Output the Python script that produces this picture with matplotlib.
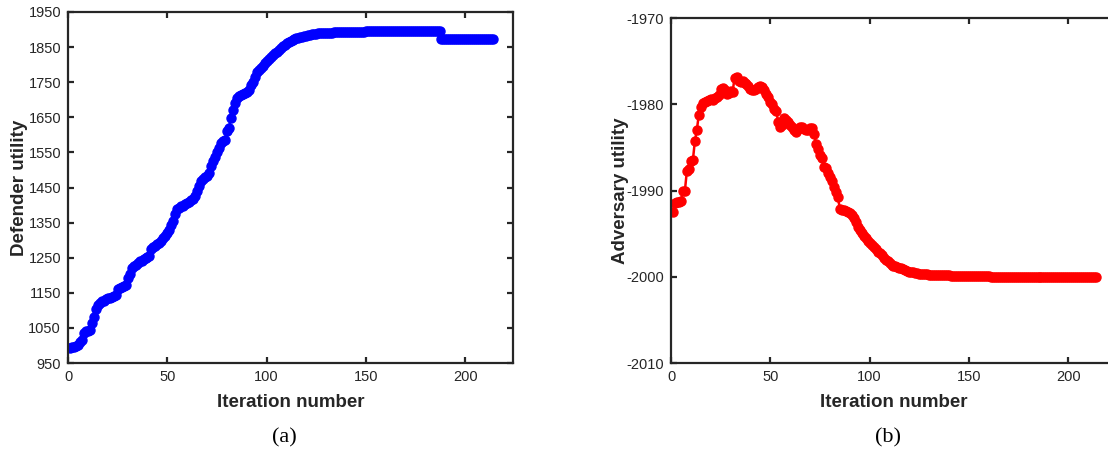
import numpy as np
import matplotlib
matplotlib.use('Agg')
import matplotlib.pyplot as plt

plt.rcParams['font.family'] = ['Liberation Sans', 'DejaVu Sans']
plt.rcParams['axes.unicode_minus'] = False

# defender utility per iteration
defender = [
    993, 995, 997, 999, 1000, 1010, 1015, 1035, 1040, 1042,
    1045, 1065, 1080, 1105, 1115, 1122, 1126, 1128, 1132, 1135,
    1136, 1138, 1140, 1145, 1162, 1165, 1166, 1168, 1172, 1192,
    1205, 1220, 1225, 1230, 1236, 1240, 1242, 1246, 1250, 1252,
    1255, 1275, 1280, 1284, 1288, 1292, 1298, 1305, 1312, 1320,
    1330, 1342, 1355, 1375, 1388, 1392, 1396, 1398, 1402, 1405,
    1410, 1414, 1418, 1425, 1440, 1455, 1468, 1475, 1480, 1484,
    1492, 1510, 1525, 1538, 1550, 1562, 1578, 1582, 1584, 1610,
    1620, 1648, 1672, 1690, 1705, 1712, 1714, 1716, 1718, 1722,
    1728, 1742, 1750, 1765, 1780, 1786, 1790, 1795, 1805, 1810,
    1815, 1822, 1828, 1832, 1836, 1842, 1848, 1853, 1857, 1861,
    1864, 1867, 1870, 1873, 1875, 1877, 1879, 1880, 1881, 1883,
    1884, 1885, 1886, 1887, 1888, 1889, 1889, 1890, 1890, 1890,
    1891, 1891, 1891, 1892, 1892, 1892, 1892, 1893, 1893, 1893,
    1893, 1893, 1894, 1894, 1894, 1894, 1894, 1894, 1894, 1895,
    1895, 1895, 1895, 1895, 1895, 1895, 1895, 1895, 1895, 1895,
    1895, 1895, 1895, 1895, 1895, 1895, 1895, 1895, 1895, 1895,
    1895, 1895, 1895, 1895, 1895, 1895, 1895, 1895, 1895, 1895,
    1895, 1895, 1895, 1895, 1895, 1895, 1895, 1874, 1874, 1874,
    1874, 1874, 1874, 1874, 1874, 1874, 1874, 1874, 1874, 1874,
    1874, 1874, 1874, 1874, 1874, 1874, 1874, 1874, 1874, 1874,
    1874, 1874, 1874, 1874,
]

# adversary utility per iteration
adversary = [
    -1992.5, -1991.4, -1991.3, -1991.3, -1991.2, -1990.1, -1990.0, -1987.7, -1987.5, -1986.6,
    -1986.5, -1984.3, -1983.0, -1981.2, -1980.3, -1979.9, -1979.7, -1979.6, -1979.5, -1979.4,
    -1979.5, -1979.3, -1979.2, -1978.9, -1978.2, -1978.1, -1978.3, -1978.8, -1978.7, -1978.5,
    -1978.6, -1976.9, -1976.8, -1977.3, -1977.4, -1977.3, -1977.5, -1977.7, -1977.9, -1978.2,
    -1978.3, -1978.4, -1978.2, -1978.0, -1977.9, -1978.0, -1978.3, -1978.8, -1979.2, -1979.7,
    -1980.0, -1980.5, -1980.8, -1982.1, -1982.6, -1982.4, -1981.6, -1981.8, -1982.1, -1982.4,
    -1982.6, -1983.0, -1983.2, -1982.9, -1982.6, -1982.6, -1982.9, -1983.0, -1983.0, -1982.8,
    -1982.8, -1983.4, -1984.6, -1985.2, -1985.9, -1986.2, -1987.3, -1987.4, -1988.0, -1988.4,
    -1988.9, -1989.6, -1990.2, -1990.8, -1992.1, -1992.3, -1992.3, -1992.4, -1992.5, -1992.6,
    -1992.8, -1993.2, -1993.7, -1994.2, -1994.6, -1994.9, -1995.3, -1995.5, -1995.8, -1996.1,
    -1996.3, -1996.6, -1996.8, -1997.1, -1997.3, -1997.5, -1997.8, -1998.0, -1998.2, -1998.4,
    -1998.6, -1998.7, -1998.8, -1998.9, -1999.0, -1999.0, -1999.1, -1999.2, -1999.3, -1999.4,
    -1999.5, -1999.5, -1999.6, -1999.6, -1999.7, -1999.7, -1999.7, -1999.7, -1999.7, -1999.8,
    -1999.8, -1999.8, -1999.8, -1999.8, -1999.8, -1999.8, -1999.8, -1999.8, -1999.8, -1999.8,
    -1999.9, -1999.9, -1999.9, -1999.9, -1999.9, -1999.9, -1999.9, -1999.9, -1999.9, -1999.9,
    -1999.9, -1999.9, -1999.9, -1999.9, -1999.9, -1999.9, -1999.9, -1999.9, -1999.9, -1999.9,
    -2000.0, -2000.0, -2000.0, -2000.0, -2000.0, -2000.0, -2000.0, -2000.0, -2000.0, -2000.0,
    -2000.0, -2000.0, -2000.0, -2000.0, -2000.0, -2000.0, -2000.0, -2000.0, -2000.0, -2000.0,
    -2000.0, -2000.0, -2000.0, -2000.0, -2000.0, -2000.0, -2000.0, -2000.0, -2000.0, -2000.0,
    -2000.0, -2000.0, -2000.0, -2000.0, -2000.0, -2000.0, -2000.0, -2000.0, -2000.0, -2000.0,
    -2000.0, -2000.0, -2000.0, -2000.0, -2000.0, -2000.0, -2000.0, -2000.0, -2000.0, -2000.0,
    -2000.0, -2000.0, -2000.0, -2000.0,
]

it_def = np.arange(1, len(defender) + 1)
it_adv = np.arange(1, len(adversary) + 1)

def_yticks = [950, 1050, 1150, 1250, 1350, 1450, 1550, 1650, 1750, 1850, 1950]
adv_yticks = [-2010, -2000, -1990, -1980, -1970]
xticks = [0, 50, 100, 150, 200]

fig = plt.figure(figsize=(11.08, 4.49), dpi=100)
ax1 = fig.add_axes([0.0614, 0.1915, 0.4016, 0.7818])
ax2 = fig.add_axes([0.6056, 0.1915, 0.4016, 0.7684])

spine_c = '#262626'


def style(ax):
    for s in ax.spines.values():
        s.set_linewidth(1.6)
        s.set_color(spine_c)
    ax.tick_params(direction='in', length=4, width=1.6, color=spine_c,
                   top=True, right=True, labelsize=10.5, labelcolor='#262626', pad=5)
    ax.set_xticks(xticks)
    ax.set_xlabel('Iteration number', fontsize=13.5, fontweight='bold', color='#262626', labelpad=7)


ax1.plot(it_def, defender, '-o', color='blue', ms=6.5, lw=1.8, mec='blue')
ax1.set_xlim(0, 224)
ax1.set_ylim(950, 1950)
ax1.set_yticks(def_yticks)
style(ax1)
ax1.set_ylabel('Defender utility', fontsize=13.5, fontweight='bold', color='#262626', labelpad=0)

ax2.plot(it_adv, adversary, '-o', color='red', ms=6.5, lw=1.8, mec='red')
ax2.set_xlim(0, 224)
ax2.set_ylim(-2010, -1970)
ax2.set_yticks(adv_yticks)
style(ax2)
ax2.set_ylabel('Adversary utility', fontsize=13.5, fontweight='bold', color='#262626', labelpad=-2)

fig.text(0.257, 0.025, '(a)', fontsize=16, family='Liberation Serif', ha='center', va='center')
fig.text(0.801, 0.025, '(b)', fontsize=16, family='Liberation Serif', ha='center', va='center')

fig.savefig('out.png', dpi=100)
